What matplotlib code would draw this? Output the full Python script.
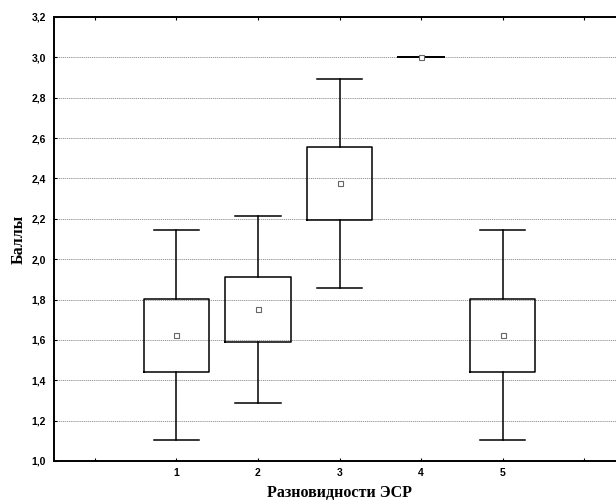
import matplotlib
matplotlib.use("Agg")
import matplotlib.pyplot as plt
from matplotlib.ticker import FixedLocator, NullFormatter

groups = [1, 2, 3, 4, 5]
means = [1.624, 1.752, 2.376, 3.0, 1.624]
box_lo = [1.442, 1.588, 2.194, 3.0, 1.442]
box_hi = [1.804, 1.912, 2.556, 3.0, 1.804]
whis_lo = [1.105, 1.285, 1.857, 3.0, 1.105]
whis_hi = [2.143, 2.214, 2.893, 3.0, 2.143]
yticks = [1.0, 1.2, 1.4, 1.6, 1.8, 2.0, 2.2, 2.4, 2.6, 2.8, 3.0, 3.2]
ytick_labels = ["1,0", "1,2", "1,4", "1,6", "1,8", "2,0", "2,2", "2,4", "2,6", "2,8", "3,0", "3,2"]
xlabel = "Разновидности ЭСР"
ylabel = "Баллы"

fig = plt.figure(figsize=(6.16, 5.03), dpi=100)
ax = fig.add_axes([54/616, 42/503, (625-54)/616, (461-17)/503])

stats = []
for g, m, lo, hi, wl, wh in zip(groups, means, box_lo, box_hi, whis_lo, whis_hi):
    stats.append(dict(label=str(g), mean=m, med=m, q1=lo, q3=hi, whislo=wl, whishi=wh, fliers=[]))

widths = [0.8 if lo != hi else 0.56 for lo, hi in zip(box_lo, box_hi)]
ax.bxp(stats, positions=groups, widths=widths, capwidths=0.56,
       showmeans=True, showfliers=False, patch_artist=False,
       boxprops=dict(color="black", linewidth=1.1),
       whiskerprops=dict(color="black", linewidth=1.1),
       capprops=dict(color="black", linewidth=1.1),
       medianprops=dict(linewidth=0),
       meanprops=dict(marker="s", markersize=3.6, markerfacecolor="white",
                      markeredgecolor="#666666", markeredgewidth=0.8),
       zorder=3)

ax.set_xlim(-0.5, 6.5)
ax.set_ylim(1.0, 3.2)
ax.set_xticks(groups)
ax.set_xticklabels([str(g) for g in groups])
ax.xaxis.set_minor_locator(FixedLocator([0, 6]))
ax.xaxis.set_minor_formatter(NullFormatter())
ax.set_yticks(yticks)
ax.set_yticklabels(ytick_labels)
ax.tick_params(axis="both", which="both", direction="in", length=2.5, width=0.8,
               top=True, labelsize=7.5)
ax.tick_params(axis="y", pad=6)
ax.tick_params(axis="x", pad=5)
for lab in ax.get_xticklabels() + ax.get_yticklabels():
    lab.set_fontfamily("Liberation Sans")
    lab.set_fontweight("bold")

ax.grid(axis="y", linestyle=(0, (1.5, 1)), color="#888888", linewidth=0.6, zorder=0)
ax.set_axisbelow(True)
for s in ax.spines.values():
    s.set_linewidth(1.4)

ax.set_xlabel(xlabel, fontfamily="Liberation Serif", fontweight="bold", fontsize=11.5, labelpad=5)
ax.set_ylabel(ylabel, fontfamily="Liberation Serif", fontweight="bold", fontsize=11.5, labelpad=3)

fig.savefig("out.png", dpi=100)
